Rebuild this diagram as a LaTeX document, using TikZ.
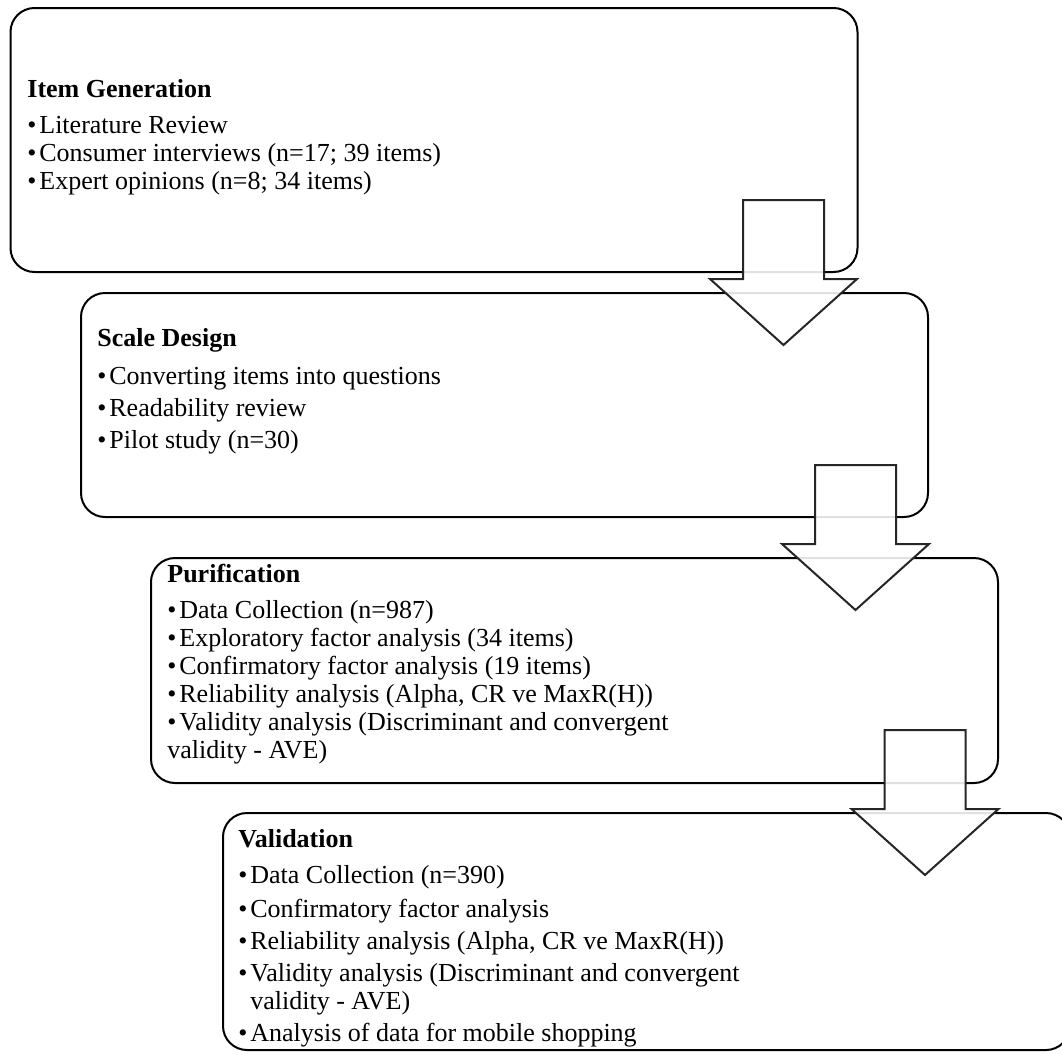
\documentclass[tikz,border=0pt]{standalone}
\usepackage{fontspec}
\setmainfont{Liberation Serif}
\usepackage{tikz}
\usetikzlibrary{positioning}

\tikzset{
    % Stage box
    stagebox/.style={
        rectangle,
        rounded corners=12pt,
        draw=black,
        line width=1pt,
        fill=white,
        minimum width=423.5pt,
        inner sep=0pt
    },
    % Stage text
    stagetext/.style={
        anchor=north west,
        align=left,
        inner sep=0pt,
        font=\fontsize{13}{14}\selectfont
    },
    % Block arrow
    blockarrow/.style={
        draw=black!85,
        line width=1pt,
        fill=white,
        fill opacity=0.88,
        line join=miter
    }
}
\newcommand{\bul}{\makebox[6pt][l]{\textbullet}}

\begin{document}
\begin{tikzpicture}[x=0.5pt, y=-0.5pt]

    \useasboundingbox (0,0) rectangle (1062,1055);

    % Stage boxes
    \node[stagebox, minimum height=132pt] (gen) at (434,140) {};
    \node[stagebox, minimum height=112pt] (design) at (504.5,405) {};
    \node[stagebox, minimum height=112.5pt] (purif) at (574.5,670.5) {};
    \node[stagebox, minimum height=118.5pt] (valid) at (646.5,931.5) {};

    % Stage texts
    \node[stagetext] (gentext) at (27,77.4) {\strut\textbf{Item Generation}\\[4pt]
        \bul Literature Review\\
        \bul Consumer interviews (n=17; 39 items)\\
        \bul Expert opinions (n=8; 34 items)};

    \node[stagetext] (designtext) at (97,326.4) {\strut\textbf{Scale Design}\\[5pt]
        \bul Converting items into questions\\[2pt]
        \bul Readability review\\[2pt]
        \bul Pilot study (n=30)};

    \node[stagetext] (puriftext) at (167,562.4) {\strut\textbf{Purification}\\[4pt]
        \bul Data Collection (n=987)\\
        \bul Exploratory factor analysis (34 items)\\
        \bul Confirmatory factor analysis (19 items)\\
        \bul Reliability analysis (Alpha, CR ve MaxR(H))\\
        \bul Validity analysis (Discriminant and convergent\\
        validity - AVE)};

    \node[stagetext] (validtext) at (238,827.4) {\strut\textbf{Validation}\\[4pt]
        \bul Data Collection (n=390)\\[3pt]
        \bul Confirmatory factor analysis\\[2pt]
        \bul Reliability analysis (Alpha, CR ve MaxR(H))\\[2pt]
        \bul Validity analysis (Discriminant and convergent\\
        \hspace{6pt}validity - AVE)\\[2pt]
        \bul Analysis of data for mobile shopping};

    % Block arrows between stages
    \foreach \cx/\ty in {783.5/200, 855.5/465, 925/730} {
        \draw[blockarrow] (\cx-40.5,\ty) -- (\cx+40.5,\ty) -- (\cx+40.5,\ty+79)
            -- (\cx+73.5,\ty+79) -- (\cx,\ty+145) -- (\cx-73.5,\ty+79)
            -- (\cx-40.5,\ty+79) -- cycle;
    }

\end{tikzpicture}
\end{document}
